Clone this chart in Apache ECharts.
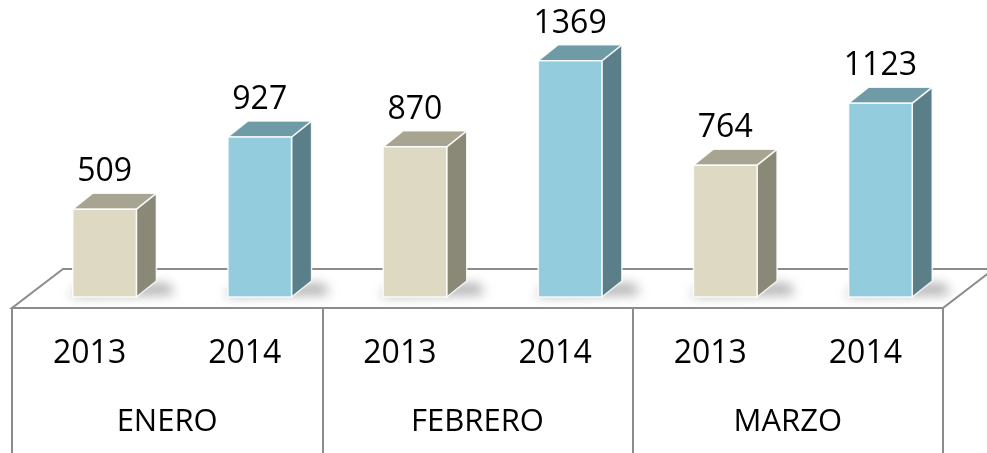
<!DOCTYPE html>
<html>
<head>
<meta charset="utf-8">
<script src="https://cdn.jsdelivr.net/npm/echarts@6/dist/echarts.min.js"></script>
<style>
  html, body { margin: 0; padding: 0; background: #fff; }
  #chart { width: 987px; height: 453px; }
</style>
</head>
<body>
<div id="chart"></div>
<script>
var months = ['ENERO', 'FEBRERO', 'MARZO'];
var years = ['2013', '2014'];
var values2013 = [509, 870, 764];
var values2014 = [927, 1369, 1123];

// 3D look: bars stand a bit behind the front edge of the floor
var SHIFT_X = 15, SHIFT_Y = -11;      // bar plane vs. front plane
var DEPTH_X = 20, DEPTH_Y = -16;      // bar depth
var FLOOR_X = 51, FLOOR_Y = -39;      // floor depth
var FAR = 3000;                       // shape drawn off-canvas, only its blur is shown
var faces = [
  { front: '#DDD9C3', side: '#8A8877', top: '#A7A591' },
  { front: '#93CDDD', side: '#5B7F89', top: '#6F9BA7' }
];
var FONT = '"Open Sans", "Liberation Sans", sans-serif';

var yearAxis = [];
var barData = [];
months.forEach(function (m, i) {
  yearAxis.push(years[0], years[1]);
  barData.push([i * 2, values2013[i], 0]);
  barData.push([i * 2 + 1, values2014[i], 1]);
});

function renderFloor(params, api) {
  var cs = params.coordSys;
  var x0 = cs.x, x1 = cs.x + cs.width, y = cs.y + cs.height;
  return {
    type: 'polygon',
    shape: { points: [[x0, y], [x1, y], [x1 + FLOOR_X, y + FLOOR_Y], [x0 + FLOOR_X, y + FLOOR_Y]] },
    style: { fill: '#fff', stroke: '#8c8c8c', lineWidth: 2 }
  };
}

function renderBar(params, api) {
  var idx = api.value(0), val = api.value(1), yr = api.value(2);
  var base = api.coord([idx, 0]);
  var top = api.coord([idx, val]);
  var w = api.size([1, 0])[0] * 0.41;
  var x0 = base[0] + SHIFT_X - w / 2, x1 = x0 + w;
  var yb = base[1] + SHIFT_Y, yt = top[1] + SHIFT_Y;
  var c = faces[yr];
  var edge = { stroke: 'rgba(255,255,255,0.85)', lineWidth: 1.5 };
  return {
    type: 'group',
    children: [
      {
        type: 'polygon',
        shape: { points: [
          [x0 - 4 - FAR, yb - 1], [x1 + DEPTH_X + 18 - FAR, yb - 3],
          [x1 + DEPTH_X + 12 - FAR, yb + DEPTH_Y + 3], [x0 + 8 - FAR, yb + DEPTH_Y + 6]
        ] },
        style: {
          fill: 'rgba(0,0,0,0.6)',
          shadowBlur: 12, shadowColor: 'rgba(0,0,0,0.6)', shadowOffsetX: FAR
        }
      },
      {
        type: 'polygon',
        shape: { points: [[x1, yt], [x1 + DEPTH_X, yt + DEPTH_Y], [x1 + DEPTH_X, yb + DEPTH_Y], [x1, yb]] },
        style: Object.assign({ fill: c.side }, edge)
      },
      {
        type: 'polygon',
        shape: { points: [[x0, yt], [x0 + DEPTH_X, yt + DEPTH_Y], [x1 + DEPTH_X, yt + DEPTH_Y], [x1, yt]] },
        style: Object.assign({ fill: c.top }, edge)
      },
      {
        type: 'rect',
        shape: { x: x0, y: yt, width: w, height: yb - yt },
        style: Object.assign({ fill: c.front }, edge)
      },
      {
        type: 'text',
        x: (x0 + x1) / 2,
        y: yt - 37,
        style: {
          text: String(val),
          fill: '#000',
          font: '32px ' + FONT,
          align: 'center',
          verticalAlign: 'middle'
        }
      }
    ]
  };
}

var myChart = echarts.init(document.getElementById('chart'));
var option = {
  animation: false,
  backgroundColor: '#fff',
  grid: { left: 12, right: 44, top: 6, bottom: 145 },
  xAxis: [
    {
      type: 'category',
      data: yearAxis,
      position: 'bottom',
      axisLine: { show: true, lineStyle: { color: '#8c8c8c', width: 2 } },
      axisTick: { show: false },
      axisLabel: { interval: 0, margin: 30, color: '#000', fontSize: 32, fontFamily: FONT }
    },
    {
      type: 'category',
      data: months,
      position: 'bottom',
      axisLine: { show: false },
      axisTick: { show: true, interval: 0, length: 145, lineStyle: { color: '#8c8c8c', width: 2 } },
      axisLabel: { interval: 0, margin: 99, color: '#000', fontSize: 31, fontFamily: FONT }
    }
  ],
  yAxis: {
    type: 'value',
    min: 0,
    max: 1750,
    show: false,
    splitLine: { show: false }
  },
  series: [
    {
      name: 'piso',
      type: 'custom',
      renderItem: renderFloor,
      data: [[0]],
      z: 1,
      silent: true
    },
    {
      name: 'valores',
      type: 'custom',
      renderItem: renderBar,
      encode: { x: 0, y: 1 },
      data: barData,
      z: 2
    }
  ]
};
myChart.setOption(option);
</script>
</body>
</html>
